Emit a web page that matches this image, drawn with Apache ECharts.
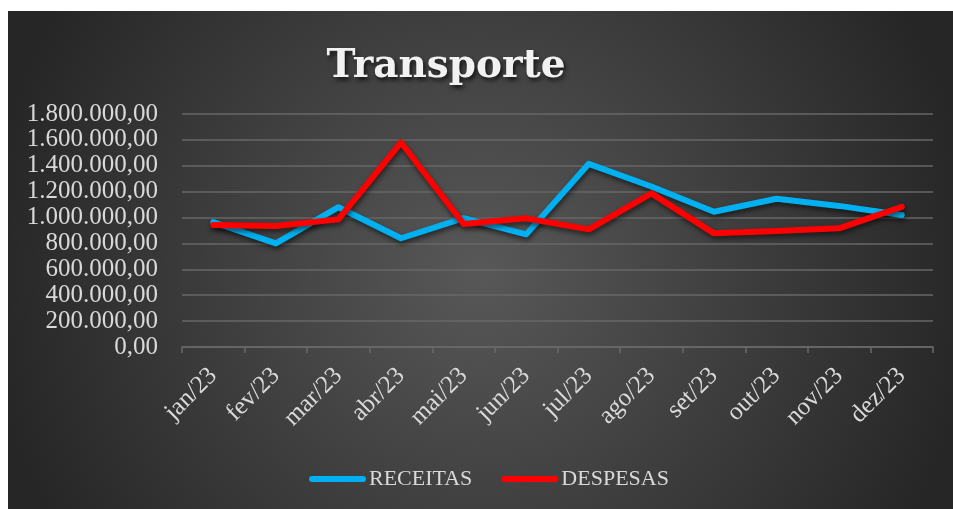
<!DOCTYPE html>
<html>
<head>
<meta charset="utf-8">
<script src="https://cdn.jsdelivr.net/npm/echarts@6/dist/echarts.min.js"></script>
<style>
  html, body { margin: 0; padding: 0; background: #ffffff; width: 953px; height: 509px; overflow: hidden; }
  #chart { position: absolute; left: 8px; top: 11px; width: 945px; height: 498px; }
</style>
</head>
<body>
<div id="chart"></div>
<script>
const categories = ['jan/23', 'fev/23', 'mar/23', 'abr/23', 'mai/23', 'jun/23', 'jul/23', 'ago/23', 'set/23', 'out/23', 'nov/23', 'dez/23'];
const receitas = [965000, 800000, 1080000, 840000, 995000, 870000, 1415000, 1240000, 1045000, 1145000, 1090000, 1020000];
const despesas = [942000, 934000, 986000, 1580000, 950000, 994000, 909000, 1187000, 878000, 896000, 917000, 1083000];
const seriesNames = ['RECEITAS', 'DESPESAS'];
const yMin = 0, yMax = 1800000, yInterval = 200000;

function fmtBR(v) {
  const s = Math.round(v).toString();
  let out = '';
  for (let i = 0; i < s.length; i++) {
    if (i > 0 && (s.length - i) % 3 === 0) out += '.';
    out += s[i];
  }
  return out + ',00';
}

const chart = echarts.init(document.getElementById('chart'), null, { renderer: 'canvas' });
const txt = '#d9d9d9';
const serif = '"Liberation Serif", "DejaVu Serif", serif';
const lineShadow = { shadowColor: 'rgba(0,0,0,0.55)', shadowBlur: 5, shadowOffsetX: 1, shadowOffsetY: 3 };

chart.setOption({
  backgroundColor: {
    type: 'radial', x: 0.5, y: 0.52, r: 1.0,
    colorStops: [{ offset: 0, color: '#585858' }, { offset: 1, color: '#262626' }]
  },
  animation: false,
  title: {
    text: 'Transporte',
    left: 433, top: 31, textAlign: 'center',
    textStyle: {
      fontFamily: '"DejaVu Serif", serif', fontWeight: 'bold', fontSize: 39, color: '#f2f2f2',
      textShadowColor: 'rgba(0,0,0,0.7)', textShadowBlur: 4, textShadowOffsetX: 2, textShadowOffsetY: 3
    }
  },
  legend: {
    left: 296, top: 452,
    itemWidth: 57, itemHeight: 6, itemGap: 29,
    icon: 'path://M3,0 L54,0 A3,3 0 0 1 54,6 L3,6 A3,3 0 0 1 3,0 Z',
    textStyle: { color: txt, fontFamily: serif, fontSize: 22, padding: [0, 0, 0, -2] },
    data: seriesNames
  },
  grid: { left: 174, top: 103, width: 751, height: 233, containLabel: false },
  xAxis: {
    type: 'category', data: categories, boundaryGap: true,
    axisLine: { show: true, lineStyle: { color: '#6a6a6a', width: 1.5 } },
    axisTick: { show: true, length: 6, lineStyle: { color: '#6a6a6a', width: 1.5 } },
    axisLabel: { rotate: 45, margin: 25, color: txt, fontFamily: serif, fontSize: 25, interval: 0 }
  },
  yAxis: {
    type: 'value', min: yMin, max: yMax, interval: yInterval,
    axisLine: { show: false }, axisTick: { show: false },
    splitLine: { lineStyle: { color: '#676767', width: 1.5 } },
    axisLabel: { margin: 24, color: txt, fontFamily: serif, fontSize: 25, formatter: fmtBR }
  },
  series: [
    {
      name: seriesNames[0], type: 'line', data: receitas, symbol: 'none',
      itemStyle: { color: '#00b0f0' },
      lineStyle: Object.assign({ color: '#00b0f0', width: 6, cap: 'round', join: 'round' }, lineShadow)
    },
    {
      name: seriesNames[1], type: 'line', data: despesas, symbol: 'none',
      itemStyle: { color: '#ff0000' },
      lineStyle: Object.assign({ color: '#ff0000', width: 6, cap: 'round', join: 'round' }, lineShadow)
    }
  ]
});
</script>
</body>
</html>
